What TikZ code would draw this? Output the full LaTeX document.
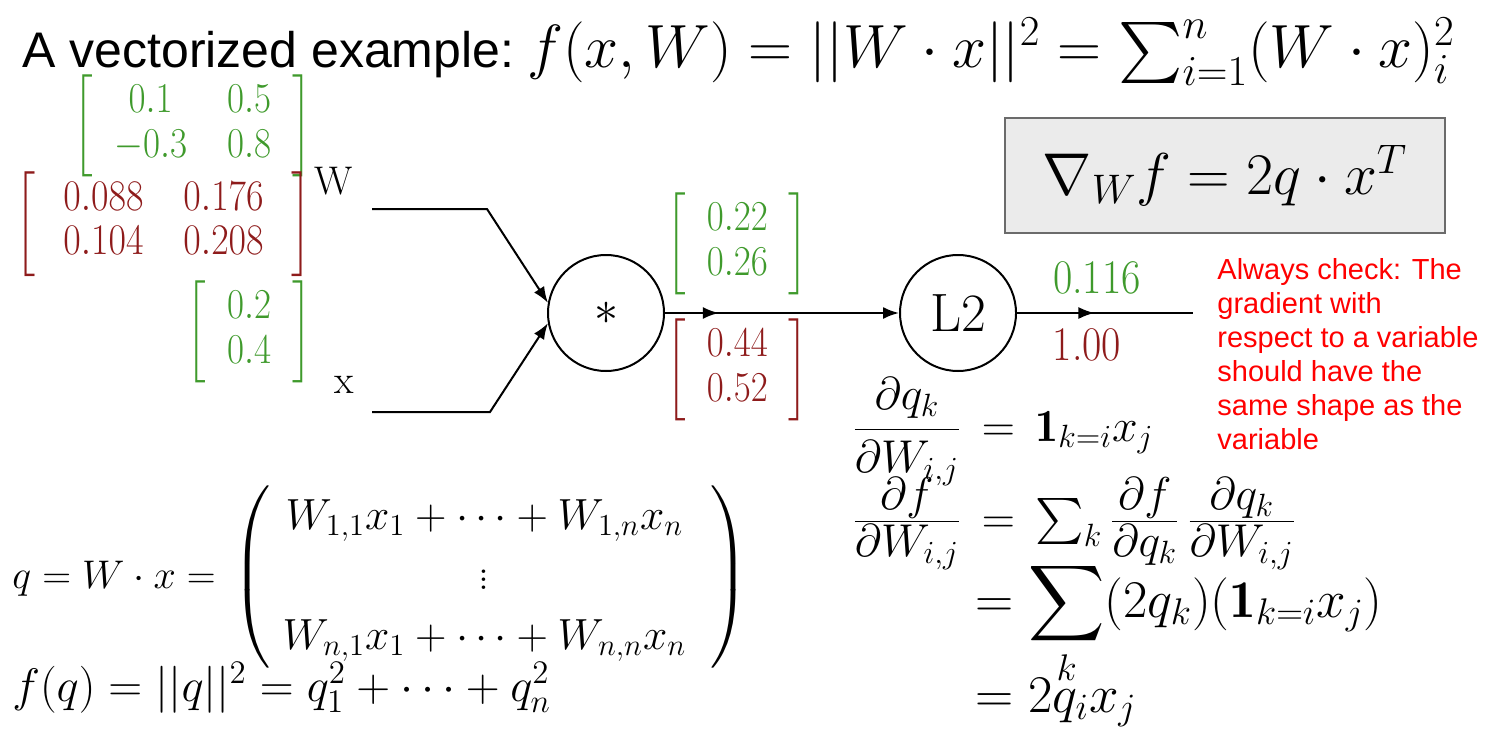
\documentclass[tikz,border=0pt]{standalone}
\usepackage{fix-cm}
\usepackage{amsmath,amssymb}
\usepackage{graphicx}
\usepackage{fontspec}
\usepackage{xcolor}
\usepackage{tikz}
\usetikzlibrary{arrows.meta,decorations.markings,positioning}
\newfontfamily\arialfont{Liberation Sans}
\definecolor{fwd}{HTML}{3F9A2C}
\definecolor{bwd}{HTML}{8E1B1B}
\definecolor{note}{HTML}{FF0000}
\definecolor{boxfill}{HTML}{EBEBEB}
\definecolor{boxline}{HTML}{6B6B6B}
\newcommand{\tall}[1]{\scalebox{1}[1.15]{#1}}
\newcommand{\vals}[2][10.5pt]{\tall{$\left[\hspace{#1}\setlength{\arraycolsep}{10pt}\begin{matrix}#2\end{matrix}\hspace{#1}\right]$}}
\newcommand{\tf}[2]{\frac{\textstyle #1}{\textstyle #2}}
\tikzset{
  wire/.style={line width=1pt},
  tip/.style={-{Latex[length=8pt,width=6pt]}},
  midtip/.style={postaction={decorate},
    decoration={markings,mark=at position #1 with {\arrow{Latex[length=8pt,width=6pt]}}}},
  gate/.style={draw, circle, line width=1pt, minimum size=58pt, inner sep=0pt},
  fwdval/.style={text=fwd, inner sep=0pt, font=\fontsize{18.5}{19.5}\selectfont},
  bwdval/.style={text=bwd, inner sep=0pt, font=\fontsize{18.5}{19.5}\selectfont},
  eq/.style={inner sep=0pt, anchor=base west, font=\fontsize{23}{28}\selectfont},
  lab/.style={inner sep=0pt, font=\fontsize{20}{24}\selectfont},
}

\begin{document}
\begin{tikzpicture}[x=0.5pt,y=-0.5pt]
  \useasboundingbox (0,0) rectangle (1491,733);
  \node[anchor=base west, inner sep=0pt, font=\arialfont\fontsize{25}{30}\selectfont] (title) at (22,68) {A vectorized example:};
  \node[anchor=base west, inner sep=0pt, font=\fontsize{30.5}{36}\selectfont] (titleeq) at ([xshift=6pt]title.base east)
    {$f(x,W)=||W\cdot x||^2=\sum_{i=1}^n(W\cdot x)_i^2$};

  \node[fwdval, anchor=east] (Wv) at (312,126) {\vals{0.1 & 0.5\\ -0.3 & 0.8}};
  \node[bwdval, anchor=east, font=\fontsize{19}{19}\selectfont] (Wg) at (312,224) {\vals[14pt]{0.088 & 0.176\\ 0.104 & 0.208}};
  \node[fwdval, anchor=east] (xv) at (312,332) {\vals{0.2\\ 0.4}};
  \node[lab] (W) at (334,181) {W};
  \node[lab] (x) at (344,385) {x};

  \node[gate, font=\fontsize{24}{28}\selectfont] (mul) at (606,313) {$*$};
  \node[gate, font=\fontsize{27}{32}\selectfont] (l2) at (958,313) {L2};
  \node[fwdval, anchor=west] (qv) at (666,244) {\vals{0.22\\ 0.26}};
  \node[bwdval, anchor=west] (qg) at (666,370) {\vals{0.44\\ 0.52}};
  \node[fwdval, font=\fontsize{21}{25}\selectfont] (fv) at (1097,278) {\tall{0.116}};
  \node[bwdval, font=\fontsize{21}{25}\selectfont] (fg) at (1087,345) {\tall{1.00}};

  \coordinate (Win) at (372,209);
  \coordinate (Wbend) at (487,209);
  \coordinate (xin) at (372,412);
  \coordinate (xbend) at (490,412);
  \coordinate (out) at (1193,313);
  \draw[wire,tip] (Win) -- (Wbend) -- (mul.170);
  \draw[wire,tip] (xin) -- (xbend) -- (mul.190);
  \draw[wire,tip,midtip=0.23] (mul) -- (l2);
  \draw[wire,midtip=0.44] (l2) -- (out);

  \node[draw=boxline, fill=boxfill, line width=1pt, minimum width=220pt, minimum height=57.5pt,
    font=\fontsize{29.5}{34}\selectfont] (grad) at (1225,175.5) {$\nabla_W f = 2q\cdot x^T$};
  \node[anchor=north west, align=left, text=note, inner sep=0pt, font=\arialfont\fontsize{14.5}{17}\selectfont]
    (rule) at (1217,258) {Always check: The\\gradient with\\respect to a variable\\should have the\\same shape as the\\variable};

  \node[eq, font=\fontsize{20}{24}\selectfont] (qdef) at (12,588) {$q = W\cdot x =$};
  \node[eq, font=\fontsize{21.8}{30}\selectfont] (qmat) at ([xshift=8pt]qdef.base east)
    {$\left(\;\begin{matrix} W_{1,1}x_1+\cdots+W_{1,n}x_n\\ \vdots\\ W_{n,1}x_1+\cdots+W_{n,n}x_n \end{matrix}\;\;\right)$};
  \node[eq, font=\fontsize{23.5}{28}\selectfont] (fdef) at (12,701) {$f(q) = ||q||^2 = q_1^2+\cdots+q_n^2$};

  \node[eq] (d1) at (852,441) {$\dfrac{\partial q_k}{\partial W_{i,j}} \,=\, \mathbf{1}_{k=i}x_j$};
  \node[eq] (d2) at (852,533) {$\tf{\partial f}{\partial W_{i,j}} \,=\, \sum_k \tf{\partial f}{\partial q_k}\,\tf{\partial q_k}{\partial W_{i,j}}$};
  \node[eq, font=\fontsize{26.5}{32}\selectfont] (d3) at (975,617) {$\displaystyle = \sum_k (2q_k)(\mathbf{1}_{k=i}x_j)$};
  \node[eq, font=\fontsize{26.5}{32}\selectfont] (d4) at (975,712) {$= 2q_ix_j$};
\end{tikzpicture}
\end{document}
